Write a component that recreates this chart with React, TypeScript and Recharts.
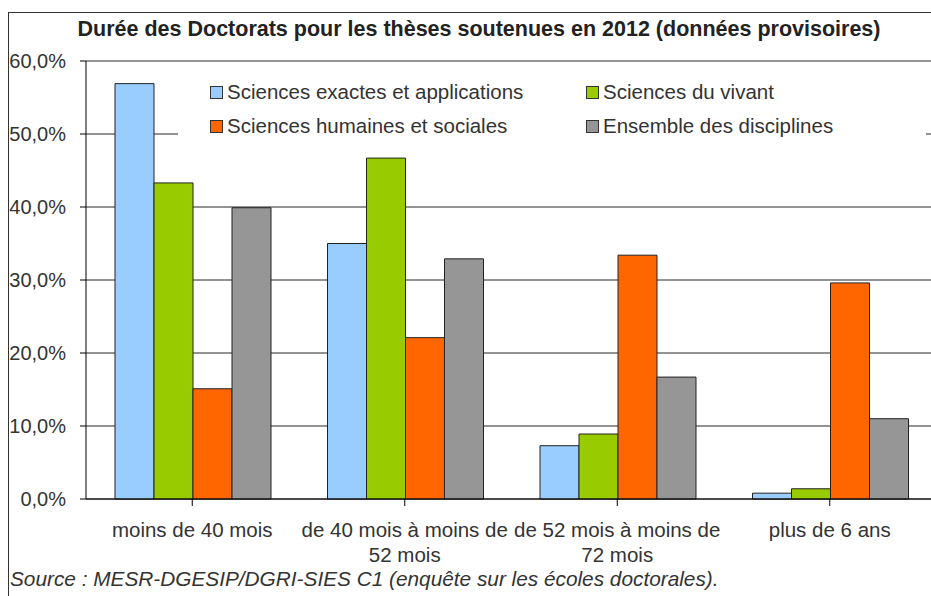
import React from 'react';
import { BarChart, Bar, XAxis, YAxis, CartesianGrid } from 'recharts';

const categories = ['moins de 40 mois', 'de 40 mois à moins de 52 mois', 'de 52 mois à moins de 72 mois', 'plus de 6 ans'];
const categoryLines = [
    ['moins de 40 mois'],
    ['de 40 mois à moins de', '52 mois'],
    ['de 52 mois à moins de', '72 mois'],
    ['plus de 6 ans'],
];
const exactes = [56.9, 35.0, 7.3, 0.8];
const vivant = [43.3, 46.7, 8.9, 1.4];
const humaines = [15.1, 22.1, 33.4, 29.6];
const ensemble = [39.9, 32.9, 16.7, 11.0];
const yTicks = [0, 10, 20, 30, 40, 50, 60];

const series = [
    { key: 'exactes', name: 'Sciences exactes et applications', color: '#99CCFF' },
    { key: 'vivant', name: 'Sciences du vivant', color: '#99CC00' },
    { key: 'humaines', name: 'Sciences humaines et sociales', color: '#FF6600' },
    { key: 'ensemble', name: 'Ensemble des disciplines', color: '#969696' },
];

const data = categories.map((c, i) => ({
    category: c,
    exactes: exactes[i],
    vivant: vivant[i],
    humaines: humaines[i],
    ensemble: ensemble[i],
}));

const FONT = 'Arial, "Liberation Sans", sans-serif';

const CategoryTick = (props: any) => {
    const { x, y, index } = props;
    const lines = categoryLines[index] || [];
    return (
        <g>
            {lines.map((line, i) => (
                <text
                    key={i}
                    x={x}
                    y={y + 29 + i * 25}
                    textAnchor="middle"
                    fontSize={20.5}
                    fontFamily={FONT}
                    fill="#333"
                >
                    {line}
                </text>
            ))}
        </g>
    );
};

const Swatch = ({ color }: { color: string }) => (
    <span
        style={{
            display: 'inline-block',
            width: 11,
            height: 11,
            background: color,
            border: '1px solid #333',
            marginRight: 4,
            verticalAlign: 'middle',
            position: 'relative',
            top: -1,
        }}
    />
);

// legend drawn as a plain box over the plot, it hides the gridlines behind it
const ChartLegend = () => (
    <div
        style={{
            position: 'absolute',
            left: 178,
            top: 70,
            width: 748,
            height: 80,
            background: '#fff',
            display: 'grid',
            gridTemplateColumns: '376px 340px',
            gridAutoRows: '24px',
            rowGap: 10,
            paddingLeft: 32,
            paddingTop: 10,
            boxSizing: 'border-box',
            fontFamily: FONT,
            fontSize: 20.5,
            color: '#333',
            lineHeight: '24px',
        }}
    >
        {series.map((s) => (
            <div key={s.key} style={{ whiteSpace: 'nowrap' }}>
                <Swatch color={s.color} />
                {s.name}
            </div>
        ))}
    </div>
);

export default function App() {
    return (
        <div style={{ width: 931, height: 596, position: 'relative', overflow: 'hidden', background: '#fff' }}>
            <style>{'body{margin:0}'}</style>
            <div style={{ position: 'absolute', left: 0, top: 0 }}>
                <BarChart
                    width={936}
                    height={596}
                    data={data}
                    margin={{ top: 61, right: 0, bottom: 0, left: 0 }}
                    barCategoryGap={29}
                    barGap={0}
                >
                    <CartesianGrid horizontal vertical={false} stroke="#000" strokeOpacity={0.85} />
                    <XAxis
                        dataKey="category"
                        height={97}
                        tick={<CategoryTick />}
                        tickSize={7}
                        axisLine={{ stroke: '#000' }}
                        tickLine={{ stroke: '#000' }}
                        interval={0}
                    />
                    <YAxis
                        width={86}
                        domain={[0, 60]}
                        ticks={yTicks}
                        tickFormatter={(v: number) => v.toFixed(1).replace('.', ',') + '%'}
                        tickSize={6}
                        tickMargin={14}
                        axisLine={{ stroke: '#000' }}
                        tickLine={{ stroke: '#000' }}
                        tick={{ fontSize: 20, fontFamily: FONT, fill: '#333' }}
                        interval={0}
                    />
                    {series.map((s) => (
                        <Bar
                            key={s.key}
                            dataKey={s.key}
                            name={s.name}
                            fill={s.color}
                            stroke="#222"
                            strokeWidth={1}
                            isAnimationActive={false}
                        />
                    ))}
                </BarChart>
            </div>
            <ChartLegend />
            <div
                style={{
                    position: 'absolute',
                    left: 8,
                    top: 12,
                    width: 940,
                    height: 600,
                    borderLeft: '1.5px solid #333',
                    borderTop: '1.5px solid #333',
                    pointerEvents: 'none',
                }}
            />
            <div
                style={{
                    position: 'absolute',
                    left: 0,
                    width: 958,
                    top: 17,
                    textAlign: 'center',
                    fontFamily: FONT,
                    fontWeight: 'bold',
                    fontSize: 21.5,
                    color: '#222',
                }}
            >
                Durée des Doctorats pour les thèses soutenues en 2012 (données provisoires)
            </div>
            <div
                style={{
                    position: 'absolute',
                    left: 10,
                    top: 567,
                    fontFamily: FONT,
                    fontStyle: 'italic',
                    fontSize: 20.8,
                    color: '#333',
                    whiteSpace: 'nowrap',
                }}
            >
                Source : MESR-DGESIP/DGRI-SIES C1 (enquête sur les écoles doctorales).
            </div>
        </div>
    );
}
